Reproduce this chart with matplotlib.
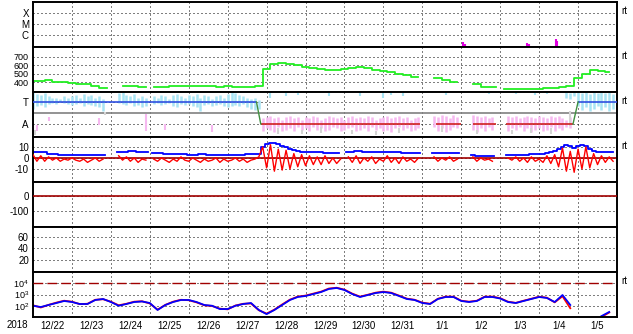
import numpy as np
import matplotlib.pyplot as plt
from matplotlib.ticker import NullLocator, FixedLocator

plt.rcParams['font.family'] = ['Liberation Sans', 'DejaVu Sans']
plt.rcParams['mathtext.fontset'] = 'custom'
plt.rcParams['mathtext.rm'] = 'Liberation Sans'
plt.rcParams['mathtext.it'] = 'Liberation Sans'
plt.rcParams['axes.unicode_minus'] = False

nan = np.nan

# time axis: days since 2018-12-22 00:00
year_label = '2018'
day_labels = ['12/22', '12/23', '12/24', '12/25', '12/26', '12/27', '12/28',
              '12/29', '12/30', '12/31', '1/1', '1/2', '1/3', '1/4', '1/5']

# x-ray flares
flare_day = [11.04, 11.09, 11.76, 12.17, 12.70, 12.74, 13.43, 13.47]
flare_flux = [2.5e-7, 1.5e-7, 1.0e-7, 1.1e-7, 1.9e-7, 1.4e-7, 4.3e-7, 2.8e-7]

# solar wind speed, every 0.2 day
speed = [410, 415, 430, 405, 400, 390, 385, 375, 360, 330,
         nan, nan, 350, 360, 345, nan, 340, 345, 355, 360,
         360, 355, 350, 350, 345, 350, 345, 340, 345, 350,
         560, 610, 625, 615, 600, 585, 570, 555, 540, 545,
         560, 570, 575, 565, 545, 530, 515, 495, 480, 460,
         nan, nan, 445, 430, 400, nan, nan, 375, 345, 340,
         nan, 320, 320, 320, 322, 325, 330, 335, 340, 350,
         450, 500, 545, 530, 525]

# IMF sector (T = toward, A = away)
toward_spans = [(0.0, 5.74), (14.0, 15.0)]
away_spans = [(5.85, 9.95), (10.35, 11.0), (11.3, 11.9), (12.15, 13.87)]
switch_days = [(5.74, 5.85), (13.87, 14.0)]

# IMF angle scatter, every 0.1 day (low / high)
tow1_hi = [1.9, 1.7, 1.6, 1.8, 1.5, 1.4, 1.4, 1.3, 1.5, 1.4, 1.5, 1.6, 1.4, 1.7, 1.5,
           1.6, 1.4, 1.5, 1.3, nan, nan, nan, 1.8, 1.9, 1.6, 1.5, 1.7, 1.4, 1.5, 1.4,
           nan, 1.5, 1.4, 1.6, 1.5, 1.3, 1.6, 1.7, 1.5, 1.4, 1.6, 1.5, 1.7, 1.4, 1.6,
           1.5, 1.3, 1.5, 1.6, 1.4, 1.7, 1.9, 1.8, 1.6, 1.5, 1.4, 1.3, 1.4, 1.2]
tow1_lo = [0.4, 0.6, 0.7, 0.5, 0.8, 0.9, 0.8, 1.0, 0.9, 0.8, 0.7, 0.8, 0.9, 0.6, 0.8,
           0.7, 0.6, 0.5, 0.2, nan, nan, nan, 0.9, 0.8, 0.7, 0.9, 0.6, 0.7, 0.5, 0.6,
           nan, 0.8, 0.9, 0.7, 0.8, 0.9, 0.6, 0.5, 0.8, 0.7, 0.8, 0.6, 0.5, 0.2, 0.7,
           0.8, 0.6, 0.7, 0.8, 0.6, 0.5, 0.6, 0.7, 0.6, 0.8, 0.5, 0.4, 0.3, 0.4]
tow2_start = 13.7
tow2_hi = [1.9, 1.8, 1.9, 1.9, 1.8, 1.9, 1.7, 1.9, 1.8, 1.9, 1.8, 1.9, 1.7]
tow2_lo = [1.4, 1.3, 1.5, 0.6, 0.3, 0.5, 0.2, 0.4, 0.6, 0.3, 0.5, 0.2, 0.4]
away_start = 5.9
away_hi = [-0.5, -0.4, -0.3, -0.5, -0.4, -0.6, -0.4, -0.3, -0.5, -0.4, -0.6,
           -0.4, -0.5, -0.3, -0.4, -0.6, -0.5, -0.3, -0.4, -0.5, -0.4,
           -0.6, -0.4, -0.3, -0.5, -0.4, -0.5, -0.3, -0.4, -0.6, -0.5,
           -0.4, -0.3, -0.5, -0.4, -0.3, -0.5, -0.4, -0.6, -0.5, -0.4,
           nan, nan, nan, -0.3, -0.4, -0.2, -0.3, -0.5, -0.2, -0.4,
           nan, nan, nan, -0.2, -0.3, -0.4, -0.3, -0.5, -0.4,
           nan, nan, nan, -0.3, -0.4, -0.3, -0.5, -0.4, -0.3, -0.4, -0.5,
           -0.3, -0.4, -0.5, -0.3, -0.4, -0.3, -0.5, -0.6, -0.4]
away_lo = [-1.6, -1.4, -1.5, -1.7, -1.3, -1.6, -1.5, -1.4, -1.6, -1.3, -1.5,
           -1.4, -1.6, -1.3, -1.5, -1.4, -1.6, -1.5, -1.3, -1.4, -1.6,
           -1.5, -1.4, -1.3, -1.6, -1.5, -1.4, -1.6, -1.3, -1.5, -1.4,
           -1.6, -1.5, -1.7, -1.4, -1.3, -1.5, -1.4, -1.6, -1.5, -1.4,
           nan, nan, nan, -1.3, -1.6, -1.4, -1.7, -1.5, -1.3, -1.4,
           nan, nan, nan, -1.5, -1.7, -1.4, -1.6, -1.3, -1.5,
           nan, nan, nan, -1.6, -1.4, -1.5, -1.3, -1.6, -1.4, -1.7, -1.5,
           -1.4, -1.6, -1.5, -1.3, -1.6, -1.4, -1.5, -1.3, -1.4]
tow_extra_day = [6.1, 6.5, 6.8, 7.6, 8.4, 9.0, 9.2, 9.5, 10.6, 11.7, 12.4, 12.9, 13.2]
tow_extra_lo = [1.4, 1.5, 1.6, 1.5, 1.5, 1.4, 1.6, 1.5, 1.6, 1.7, 1.7, 1.6, 1.7]
tow_extra_hi = [1.9, 1.9, 1.9, 1.8, 1.9, 1.9, 1.9, 1.8, 1.9, 1.9, 1.9, 1.8, 1.9]
away_extra_day = [0.0, 0.1, 0.4, 1.7, 2.9, 3.4, 4.6]
away_extra_lo = [-1.9, -1.6, -0.7, -1.1, -1.6, -1.5, -1.7]
away_extra_hi = [-1.0, -1.1, -0.4, -0.5, -0.1, -1.0, -1.1]
grey_day = [0.05, 1.85, 6.3, 6.9, 7.4, 8.2, 8.8, 9.4, 10.5, 11.4, 12.3, 12.8, 13.3, 13.8, 14.3]
grey_lo = [-2.0, -0.2, -1.9, -1.9, -1.8, -1.9, -2.0, -1.8, -1.7, -1.9, -1.9, -1.8, -1.9, -1.2, 1.8]
grey_hi = [-1.5, 0.1, -1.4, -1.5, -1.3, -1.5, -1.6, -1.4, -1.2, -1.5, -1.5, -1.4, -1.4, 0.2, 1.95]

# IMF Bt / Bz (nT), every 0.1 day
bt = [5, 5, 5.5, 5, 4, 3.5, 3.5, 3, 3, 3, 2.5, 2.5, 2.5, 2.5, 2.5, 2.5, 3, 3, 3,
      nan, nan, nan, 5.5, 5.5, 5.5, 6, 6, 5.5, 5.5, 5.5, nan,
      4.5, 4.5, 4.5, 4, 4, 3.5, 3.5, 3.5, 3.5,
      3, 3, 3, 3.5, 3.5, 3, 3, 3, 2.5, 2.5,
      3, 3, 3, 3, 3, 3.5, 3.5, 3.5,
      4, 10, 13, 14, 13.5, 13, 11, 9.5, 8, 7, 6, 5.5,
      5, 5, 5, 5, 5, 4.5, 4.5, 4.5, 4.5, nan, nan,
      5.5, 5.5, 6, 6, 5.5, 5.5, 5.5, 5.5, 5.5, 5.5, 5, 5, 5, 5,
      4.5, 4.5, 4.5, 4.5, 4.5, nan, nan, nan,
      4.5, 4.5, 4.5, 4.5, 4.5, 4.5, 4.5, nan, nan, nan,
      2.5, 2, 2, 2, 2, 2, nan, nan, nan,
      2.5, 2.5, 2.5, 2.5, 3, 3, 3.5, 3.5, 4, 4, 4.5, 5.5, 6.5,
      8, 10, 12, 11, 9, 11, 12, 11, 8, 6, 5, 5, 5, 5.5, 5.5]
bz = [3, -3, 2, -3, 1, -2, 0, -3, -1, -2, 0, -2, -3, -1, -4, -2, 0, -3, -1,
      nan, nan, nan, 2, -2, 1, -3, 0, -4, -1, -2, nan,
      -1, -3, 0, -2, -4, -1, -3, 1, -2, -3, 0, -2, -4, -1, -3, -2, 0, -4, -1, -3,
      -2, 0, -3, -1, -4, -2, -1,
      1, 10, -9, 12, -12, 8, -11, 7, -10, 4, -8, 3, -7, 2, -6, 1, -6, 2, -5, 0, -5, -1, nan,
      1, -4, 2, -5, 0, -3, 1, -5, -1, -3, 2, -4, 0, -5, 1, -3, -1, -4, 0,
      nan, nan, nan, 1, -3, 0, -2, 1, -3, -1, nan, nan, nan,
      1, -3, 0, -2, -1, -3, nan, nan, nan,
      0, -2, 1, -3, 0, -4, 1, -3, -1, -4, 2, -5, 3,
      -8, 9, -12, 6, -13, 8, -10, 10, -9, 4, -6, 2, -4, 1, -3]

# particle flux, every 0.2 day
flux_a = [100, 77, 117, 175, 265, 215, 143, 143, 325, 400,
          215, 100, 143, 215, 240, 175, 42, 117, 215, 325,
          325, 215, 117, 100, 51, 51, 100, 143, 175, 42,
          18, 42, 117, 325, 600, 740, 1100, 1660, 3100, 3800,
          2500, 1100, 600, 900, 1350, 1660, 1350, 740, 400, 325,
          175, 143, 400, 600, 600, 265, 215, 265, 600, 600,
          440, 215, 175, 265, 400, 600, 490, 215, 900, 117,
          nan, nan, nan, 12, 28]
flux_b = [110, 70, 120, 190, 280, 230, 140, 150, 340, 380,
          230, 110, 150, 230, 250, 160, 45, 120, 230, 340,
          310, 200, 110, 95, 55, 48, 105, 150, 160, 40,
          20, 45, 130, 350, 650, 800, 1200, 1800, 3400, 4000,
          2700, 1200, 650, 950, 1450, 1800, 1450, 800, 430, 340,
          190, 150, 420, 650, 640, 280, 230, 280, 640, 650,
          470, 230, 180, 280, 420, 640, 520, 200, 700, 60,
          nan, nan, nan, 10, 25]
flux_alert = 1e4

t5 = np.arange(len(speed)) * 0.2
t10 = np.arange(len(bt)) * 0.1

FLARE_FLOOR = 8.1e-8
DRED = '#a00000'
DOT = (0, (1, 3))
FS = 7

fig, axes = plt.subplots(7, 1, sharex=True, figsize=(6.33, 3.34), dpi=100,
                         gridspec_kw=dict(hspace=0))
fig.subplots_adjust(left=33/633, right=617/633, top=1-2/334, bottom=1-317/334)


def strokes(ax, x0, lo, hi, color, lw=1.8, step=0.1):
    lo = np.array(lo, float)
    hi = np.array(hi, float)
    x = x0 + np.arange(len(lo)) * step
    m = np.isfinite(lo)
    ax.vlines(x[m], lo[m], hi[m], color=color, linewidth=lw)


# panel 1: x-ray
ax = axes[0]
ax.set_yscale('log')
ax.vlines(flare_day, FLARE_FLOOR, flare_flux, color='#e000e0', linewidth=1.5)
ax.set_ylim(FLARE_FLOOR, 1e-3)
ax.set_yticks([1e-6, 1e-5, 1e-4])
ax.set_yticklabels(['C', 'M', 'X'])

# panel 2: speed
ax = axes[1]
ax.plot(t5, speed, color='#22ee22', linewidth=1.3, drawstyle='steps-mid')
ax.set_ylim(285, 815)
ax.set_yticks([400, 500, 600, 700])

# panel 3: sector
ax = axes[2]
ax.axhline(0, color='#808080', linewidth=1.2, zorder=1)
strokes(ax, 0.0, tow1_lo, tow1_hi, '#a8e4f4')
strokes(ax, tow2_start, tow2_lo, tow2_hi, '#a8e4f4')
strokes(ax, away_start, away_lo, away_hi, '#f6b8f0')
ax.vlines(tow_extra_day, tow_extra_lo, tow_extra_hi, color='#a8e4f4', linewidth=1.5)
ax.vlines(away_extra_day, away_extra_lo, away_extra_hi, color='#f6b8f0', linewidth=1.5)
ax.vlines(grey_day, grey_lo, grey_hi, color='#d4d4d4', linewidth=1.5)
for a, b in toward_spans:
    ax.hlines(1, a, b, color='#3050e0', linewidth=1.2, zorder=3)
for a, b in away_spans:
    ax.hlines(-1, a, b, color='#d02020', linewidth=1.2, zorder=3)
ax.plot(switch_days[0], [1, -1], color='#409040', linewidth=1.0, zorder=3)
ax.plot(switch_days[1], [-1, 1], color='#409040', linewidth=1.0, zorder=3)
ax.set_ylim(-2.18, 1.9)
ax.set_yticks([1, -1])
ax.set_yticklabels(['T', 'A'])

# panel 4: Bt / Bz
ax = axes[3]
ax.axhline(0, color=DRED, linewidth=1.2, zorder=1)
ax.plot(t10, bt, color='#0000ff', linewidth=1.3, zorder=2, drawstyle='steps-mid')
ax.plot(t10, bz, color='#ff0000', linewidth=1.0, zorder=3)
ax.set_ylim(-21.8, 19)
ax.set_yticks([10, 0, -10])

# panel 5
ax = axes[4]
ax.axhline(0, color=DRED, linewidth=1.2, zorder=3)
ax.set_ylim(-207, 93)
ax.set_yticks([0, -100])

# panel 6
ax = axes[5]
ax.set_ylim(-2, 78)
ax.set_yticks([60, 40, 20])

# panel 7: flux
ax = axes[6]
ax.set_yscale('log')
ax.axhline(flux_alert, color=DRED, linewidth=1.0, linestyle=(0, (7, 3)), zorder=3)
ax.plot(t5, flux_b, color='#ff0000', linewidth=1.3)
ax.plot(t5, flux_a, color='#0000ff', linewidth=1.3)
ax.set_ylim(10, 1e5)
ax.set_yticks([1e2, 1e3, 1e4])
ax.set_yticklabels([r'$10^2$', r'$10^3$', r'$10^4$'])

for i, ax in enumerate(axes):
    ax.set_xlim(0, 15)
    ax.yaxis.set_minor_locator(NullLocator())
    ax.xaxis.set_major_locator(FixedLocator(np.arange(1, 15)))
    ax.xaxis.set_minor_locator(FixedLocator(np.arange(15) + 0.5))
    ax.grid(True, which='major', color='black', linestyle=DOT, linewidth=0.72)
    ax.tick_params(axis='both', which='both', length=0)
    ax.tick_params(axis='y', pad=3, labelsize=FS)
    for s in ax.spines.values():
        s.set_linewidth(1.4)
    ax.set_axisbelow(True)

axes[1].tick_params(axis='y', labelsize=6.5)
axes[6].tick_params(axis='y', labelsize=6.5)
axes[-1].xaxis.set_ticklabels([], minor=False)
axes[-1].xaxis.set_ticklabels(day_labels, minor=True)
axes[-1].tick_params(axis='x', which='minor', labelsize=FS, pad=3)
fig.text(17/633, 1-325/334, year_label, ha='center', va='center', fontsize=FS)

for i in [0, 1, 2, 3, 6]:
    axes[i].text(1.008, 0.79, 'rt', transform=axes[i].transAxes,
                 fontsize=FS, ha='left', va='center')

fig.savefig('out.png', dpi=100)
